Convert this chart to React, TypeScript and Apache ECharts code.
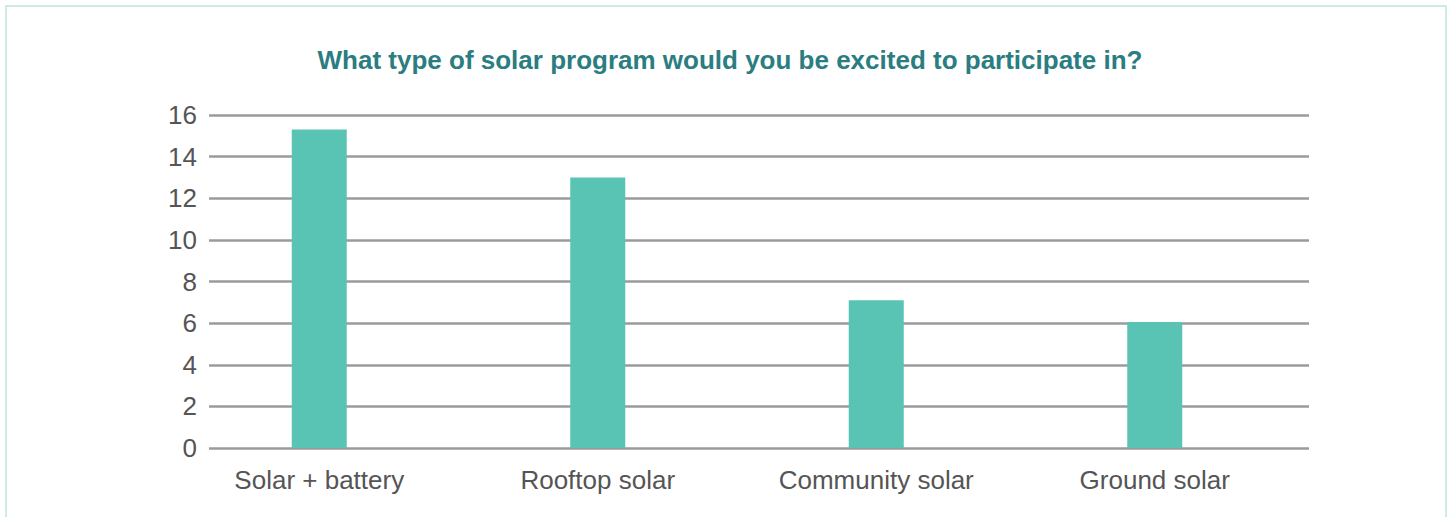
import React, { useEffect, useRef } from "react";
import * as echarts from "echarts";

const title = "What type of solar program would you be excited to participate in?";
const categories = ["Solar + battery", "Rooftop solar", "Community solar", "Ground solar"];
const values = [15.3, 13, 7.1, 6.05];
const yTicks = { min: 0, max: 16, interval: 2 };

export default function App() {
  const ref = useRef<HTMLDivElement>(null);
  useEffect(() => {
    document.body.style.margin = "0";
    const chart = echarts.init(ref.current!, undefined, { renderer: "svg" });
    const labelFont = "'Liberation Sans', Arial, sans-serif";
    chart.setOption({
      animation: false,
      backgroundColor: "#ffffff",
      title: {
        text: title,
        left: 725,
        top: 42,
        textAlign: "center",
        textStyle: {
          color: "#2a7d80",
          fontSize: 26,
          fontWeight: "bold",
          fontFamily: labelFont,
        },
      },
      graphic: [
        {
          type: "rect",
          shape: { x: 6, y: 6, width: 1440, height: 600 },
          style: { fill: "none", stroke: "#cdeae6", lineWidth: 2 },
          silent: true,
          z: -1,
        },
      ],
      grid: [
        { left: 209, right: 143, top: 115, bottom: 69 },
        { left: 180, right: 158, top: 115, bottom: 69 },
      ],
      xAxis: [
        {
          type: "category",
          gridIndex: 0,
          data: categories,
          show: false,
        },
        {
          type: "category",
          gridIndex: 1,
          data: categories,
          axisLine: { show: false },
          axisTick: { show: false },
          axisLabel: {
            color: "#555555",
            fontSize: 26,
            fontFamily: labelFont,
            margin: 19,
          },
        },
      ],
      yAxis: [
        {
          type: "value",
          gridIndex: 0,
          min: yTicks.min,
          max: yTicks.max,
          interval: yTicks.interval,
          axisLine: { show: false },
          axisTick: { show: false },
          axisLabel: {
            color: "#555555",
            fontSize: 26,
            fontFamily: labelFont,
            margin: 12,
          },
          splitLine: { lineStyle: { color: "#9b9b9f", width: 2.5 } },
        },
        {
          type: "value",
          gridIndex: 1,
          min: yTicks.min,
          max: yTicks.max,
          interval: yTicks.interval,
          show: false,
          splitLine: { show: false },
        },
      ],
      series: [
        {
          type: "bar",
          xAxisIndex: 1,
          yAxisIndex: 1,
          data: values,
          barWidth: 55,
          itemStyle: { color: "#59c3b4" },
          z: 3,
        },
      ],
    });
    return () => chart.dispose();
  }, []);
  return <div ref={ref} style={{ width: 1452, height: 517 }} />;
}
